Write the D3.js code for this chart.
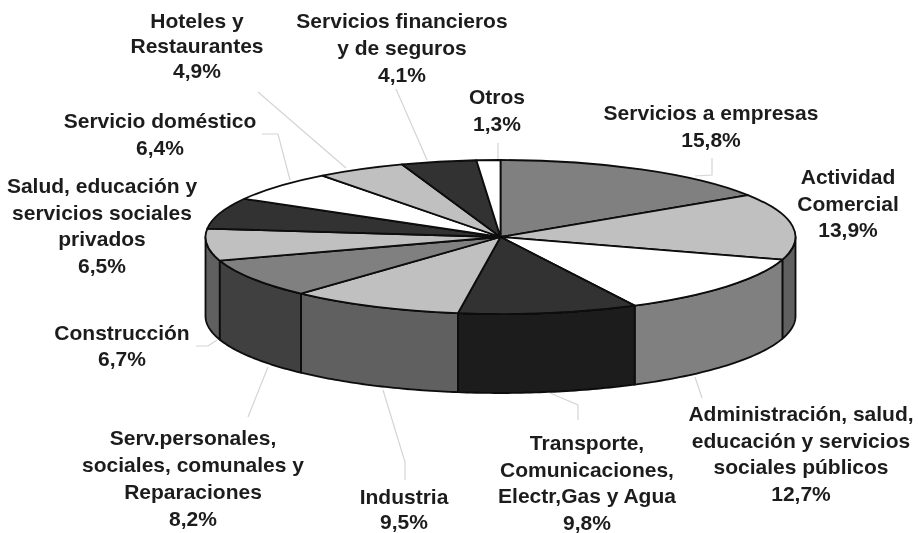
<!DOCTYPE html>
<html><head><meta charset="utf-8">
<script src="https://cdn.jsdelivr.net/npm/d3@7/dist/d3.min.js"></script>
<style>html,body{margin:0;padding:0;background:#fff}svg{display:block}
text{font-family:"Liberation Sans",Arial,sans-serif;font-weight:700;font-size:21px;fill:#1c1c1c;text-anchor:middle}</style>
</head><body><svg id="c" width="918" height="533"></svg>
<script>
const categories=["Servicios a empresas","Actividad Comercial","Administración, salud, educación y servicios sociales públicos","Transporte, Comunicaciones, Electr,Gas y Agua","Industria","Serv.personales, sociales, comunales y Reparaciones","Construcción","Salud, educación y servicios sociales privados","Servicio doméstico","Hoteles y Restaurantes","Servicios financieros y de seguros","Otros"];
const values=[15.8,13.9,12.7,9.8,9.5,8.2,6.7,6.5,6.4,4.9,4.1,1.3];
const valueLabels=["15,8%","13,9%","12,7%","9,8%","9,5%","8,2%","6,7%","6,5%","6,4%","4,9%","4,1%","1,3%"];
const topColors=["#808080","#c0c0c0","#ffffff","#333333","#c0c0c0","#808080","#c0c0c0","#333333","#ffffff","#c0c0c0","#333333","#ffffff"];
const sideColors=["#404040","#606060","#808080","#1a1a1a","#606060","#404040","#606060","#1a1a1a","#808080","#606060","#1a1a1a","#808080"];
const labelLines=[["Servicios a empresas"],["Actividad","Comercial"],["Administración, salud,","educación y servicios","sociales públicos"],["Transporte,","Comunicaciones,","Electr,Gas y Agua"],["Industria"],["Serv.personales,","sociales, comunales y","Reparaciones"],["Construcción"],["Salud, educación y","servicios sociales","privados"],["Servicio doméstico"],["Hoteles y","Restaurantes"],["Servicios financieros","y de seguros"],["Otros"]];
const labelX=[711,848,801,587,404,193,122,102,160,197,402,497];
const labelY=[120,184,421,450,504,445,340,193,128,28,28,104];
const labelGap=[26.5,26.5,26.5,26.5,24.5,27,26,26.5,26.5,25,27,26.5];
const leaders=[[[712,158],[712,175],[695,176]],[],[[695,377],[702,398]],[[578,420],[578,405],[550,393]],[[405,480],[405,462],[383,390]],[[248,417],[268,367]],[[196,346],[208,346],[217,340]],[],[[262,134],[278,134],[290,180]],[[258,92],[346,168]],[[396,89],[427,160]],[[498,143],[498,160]]];

const cx=500.5,cy=237,rx=295,ry=77,depth=79;
const svg=d3.select("#c");
const defs=svg.append("defs");
defs.append("filter").attr("id","soft").attr("x","-5%").attr("y","-5%").attr("width","110%").attr("height","110%")
  .append("feGaussianBlur").attr("stdDeviation",0.55);
const g=svg.append("g").attr("filter","url(#soft)");

g.append("g").selectAll("path").data(leaders).join("path")
  .attr("d",d=>d.length?d3.line()(d):null).attr("fill","none").attr("stroke","#d4d4d4").attr("stroke-width",1.2);

const pie=d3.pie().sort(null).value(d=>d)(values);
const px=a=>cx+rx*Math.sin(a), py=a=>cy-ry*Math.cos(a);
const HALF=Math.PI/2;
const wall=g.append("g");
pie.forEach((s,i)=>{
  const a0=Math.max(s.startAngle,HALF),a1=Math.min(s.endAngle,3*HALF);
  if(a1<=a0) return;
  const steps=d3.range(0,41).map(k=>a0+(a1-a0)*k/40);
  const pts=steps.map(a=>[px(a),py(a)]).concat(steps.slice().reverse().map(a=>[px(a),py(a)+depth]));
  wall.append("path").attr("d",d3.line()(pts)+"Z").attr("fill",sideColors[i])
    .attr("stroke","#0a0a0a").attr("stroke-width",1.8).attr("stroke-linejoin","round");
});
const arc=d3.arc().innerRadius(0).outerRadius(rx);
g.append("g").attr("transform",`translate(${cx},${cy}) scale(1,${ry/rx})`)
  .selectAll("path").data(pie).join("path").attr("d",arc).attr("fill",(d,i)=>topColors[i])
  .attr("stroke","#0a0a0a").attr("stroke-width",1.8).attr("stroke-linejoin","round")
  .attr("vector-effect","non-scaling-stroke");

const t=g.append("g");
categories.forEach((c,i)=>{
  const lines=labelLines[i].concat(valueLabels[i]);
  const el=t.append("text").attr("x",labelX[i]).attr("y",labelY[i]);
  lines.forEach((l,k)=>el.append("tspan").attr("x",labelX[i]).attr("dy",k?labelGap[i]:0).text(l));
});
</script></body></html>
